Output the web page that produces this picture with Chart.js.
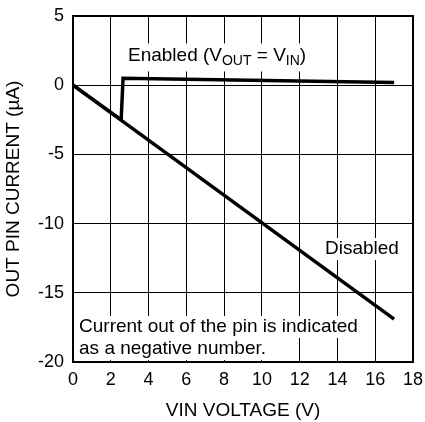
<!DOCTYPE html>
<html>
<head>
<meta charset="utf-8">
<script src="https://cdn.jsdelivr.net/npm/chart.js@4/dist/chart.umd.min.js"></script>
<style>
  html, body { margin: 0; padding: 0; background: #fff; }
  #wrap { width: 425px; height: 422px; position: relative; }
</style>
</head>
<body>
<div id="wrap"><canvas id="chart"></canvas></div>
<script>
'use strict';
// values
var disabledV = [0, 17];
var disabledI = [0, -16.9];
var enabledV = [0, 2.55, 2.65, 17];
var enabledI = [0, -2.5, 0.5, 0.2];
var xTicks = [0, 2, 4, 6, 8, 10, 12, 14, 16, 18];
var yTicks = [-20, -15, -10, -5, 0, 5];

var FONT = '"Liberation Sans", Arial, sans-serif';

function points(xs, ys) {
    var out = [];
    for (var i = 0; i < xs.length; i++) {
        out.push({ x: xs[i], y: ys[i] });
    }
    return out;
}

// text with a white box behind it, placed in data coordinates
function boxText(ctx, chart, lines, vx, vy) {
    var x = chart.scales.x.getPixelForValue(vx);
    var y = chart.scales.y.getPixelForValue(vy);
    ctx.save();
    ctx.font = '19px ' + FONT;
    ctx.textBaseline = 'middle';
    ctx.textAlign = 'left';
    lines.forEach(function(line, i) {
        var w = ctx.measureText(line).width;
        var ly = y + i * 22;
        ctx.fillStyle = '#fff';
        ctx.fillRect(x - 3, ly - 11, w + 6, 22);
        ctx.fillStyle = '#000';
        ctx.fillText(line, x, ly);
    });
    ctx.restore();
}

var notes = {
    id: 'notes',
    beforeDatasetsDraw: function(chart) {
        var ctx = chart.ctx;
        // Enabled (VOUT = VIN) with subscripts
        var x = chart.scales.x.getPixelForValue(2.91);
        var y = chart.scales.y.getPixelForValue(2.15);
        ctx.save();
        var parts = [
            ['Enabled (V', 19, 0], ['OUT', 14, 6], [' = V', 19, 0], ['IN', 14, 6], [')', 19, 0]
        ];
        var total = 0;
        parts.forEach(function(p) {
            ctx.font = p[1] + 'px ' + FONT;
            total += ctx.measureText(p[0]).width;
        });
        ctx.fillStyle = '#fff';
        ctx.fillRect(x - 3, y - 12, total + 6, 28);
        ctx.fillStyle = '#000';
        ctx.textBaseline = 'middle';
        parts.forEach(function(p) {
            ctx.font = p[1] + 'px ' + FONT;
            ctx.fillText(p[0], x, y + p[2]);
            x += ctx.measureText(p[0]).width;
        });
        ctx.restore();

        boxText(ctx, chart, ['Disabled'], 13.34, -11.84);
        boxText(ctx, chart, ['Current out of the pin is indicated', 'as a negative number.'], 0.32, -17.47);
    },
    afterDatasetsDraw: function(chart) {
        // heavier frame round the plot
        var a = chart.chartArea;
        var ctx = chart.ctx;
        ctx.save();
        ctx.strokeStyle = '#000';
        ctx.lineWidth = 2;
        ctx.strokeRect(a.left, a.top, a.right - a.left, a.bottom - a.top);
        ctx.restore();
    }
};

var ctx = document.getElementById('chart').getContext('2d');
var chart = new Chart(ctx, {
    type: 'scatter',
    data: {
        datasets: [
            {
                label: 'Disabled',
                data: points(disabledV, disabledI),
                showLine: true,
                borderColor: '#000',
                borderWidth: 3.5,
                pointRadius: 0,
                tension: 0,
            },
            {
                label: 'Enabled',
                data: points(enabledV, enabledI),
                showLine: true,
                borderColor: '#000',
                borderWidth: 3.5,
                pointRadius: 0,
                tension: 0,
            },
        ],
    },
    plugins: [notes],
    options: {
        responsive: true,
        maintainAspectRatio: false,
        animation: false,
        layout: { padding: 0 },
        plugins: {
            legend: { display: false },
            tooltip: { enabled: false },
        },
        scales: {
            x: {
                type: 'linear',
                min: 0,
                max: 18,
                afterBuildTicks: function(scale) {
                    scale.ticks = xTicks.map(function(v) { return { value: v }; });
                },
                afterFit: function(scale) {
                    scale.height = 60;
                    scale.paddingRight = 12;
                },
                grid: { color: '#000', lineWidth: 1, drawTicks: false },
                border: { color: '#000', width: 2 },
                ticks: {
                    color: '#000',
                    font: { family: FONT, size: 18 },
                    padding: 7,
                    maxRotation: 0,
                },
                title: {
                    display: true,
                    text: 'VIN VOLTAGE (V)',
                    color: '#000',
                    font: { family: FONT, size: 19 },
                    padding: { top: 2, bottom: 0 },
                },
            },
            y: {
                type: 'linear',
                min: -20,
                max: 5,
                afterBuildTicks: function(scale) {
                    scale.ticks = yTicks.map(function(v) { return { value: v }; });
                },
                afterFit: function(scale) {
                    scale.width = 73;
                    scale.paddingTop = 16;
                },
                grid: { color: '#000', lineWidth: 1, drawTicks: false },
                border: { color: '#000', width: 2 },
                ticks: {
                    color: '#000',
                    font: { family: FONT, size: 18 },
                    padding: 9,
                },
                title: {
                    display: true,
                    text: 'OUT PIN CURRENT (µA)',
                    color: '#000',
                    font: { family: FONT, size: 19 },
                    padding: { top: 2, bottom: 0 },
                },
            },
        },
    },
});
</script>
</body>
</html>
